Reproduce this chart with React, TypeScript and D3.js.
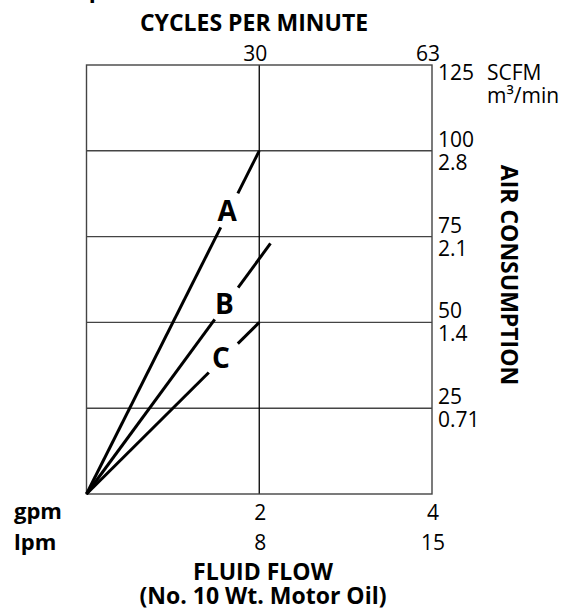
import React from "react";
import * as d3 from "d3";

// ---- data ----
const seriesNames = ["A", "B", "C"];
const endGpm = [2, 2.13, 2];
const endScfm = [100, 73, 50];
const labelT = [0.826, 0.76, 0.79];
const gapStart = [0.777, 0.697, 0.708];
const gapEnd = [0.876, 0.824, 0.876];

const gridScfm = [25, 50, 75, 100];
const scfmTicks = [125, 100, 75, 50, 25];
const m3Ticks = ["m³/min", "2.8", "2.1", "1.4", "0.71"];
const gpmTicks = [2, 4];
const lpmTicks = ["8", "15"];
const cpmTicks = ["30", "63"];

const W = 568;
const H = 612;
const FONT = "'Open Sans', 'Noto Sans', sans-serif";
const NUM = 21;
const TITLE = 23;

export default function App() {
  const x = d3.scaleLinear().domain([0, 4]).range([86.5, 432]);
  const y = d3.scaleLinear().domain([0, 125]).range([494, 65]);
  const line = d3
    .line<[number, number]>()
    .x((d) => x(d[0]))
    .y((d) => y(d[1]));

  const gridColor = "#444";

  return (
    <svg
      width={W}
      height={H}
      style={{ position: "absolute", left: 0, top: 0, background: "#fff" }}
      fontFamily={FONT}
    >
      {/* cut-off text at very top */}
      <text x={96} y={-3} fontSize={TITLE} fontWeight={700} textAnchor="middle">
        p
      </text>

      {/* grid */}
      {gridScfm.map((v) => (
        <line
          key={v}
          x1={x(0)}
          x2={x(4)}
          y1={y(v)}
          y2={y(v)}
          stroke={gridColor}
          strokeWidth={1.4}
        />
      ))}
      <line x1={x(2)} x2={x(2)} y1={y(0)} y2={y(125)} stroke="#000" strokeWidth={1.3} />
      <rect
        x={x(0)}
        y={y(125)}
        width={x(4) - x(0)}
        height={y(0) - y(125)}
        fill="none"
        stroke={gridColor}
        strokeWidth={1.4}
      />

      {/* series lines */}
      {seriesNames.map((name, i) => {
        const ex = endGpm[i];
        const ey = endScfm[i];
        const p = (t: number): [number, number] => [ex * t, ey * t];
        const t = labelT[i];
        return (
          <g key={name}>
            <path
              d={line([p(0), p(gapStart[i])]) || ""}
              fill="none"
              stroke="#000"
              strokeWidth={3}
            />
            <path
              d={line([p(gapEnd[i]), p(1)]) || ""}
              fill="none"
              stroke="#000"
              strokeWidth={3}
            />
            <text
              x={x(ex * t) - 2}
              y={y(ey * t) + 10}
              fontSize={28}
              fontWeight={700}
              textAnchor="middle"
            >
              {name}
            </text>
          </g>
        );
      })}

      {/* top axis */}
      <text x={254} y={31} fontSize={TITLE} fontWeight={700} textAnchor="middle">
        CYCLES PER MINUTE
      </text>
      {cpmTicks.map((c, i) => (
        <text key={c} x={x(gpmTicks[i]) - 4} y={61} fontSize={NUM} textAnchor="middle">
          {c}
        </text>
      ))}

      {/* right axis */}
      {scfmTicks.map((v, i) => {
        const top = v === 125;
        const b1 = top ? 80 : y(v) - 4;
        return (
          <g key={v}>
            <text x={438} y={b1} fontSize={NUM}>
              {v}
            </text>
            {top && (
              <text x={487} y={b1} fontSize={NUM}>
                SCFM
              </text>
            )}
            <text x={top ? 487 : 438} y={b1 + 23} fontSize={NUM}>
              {m3Ticks[i]}
            </text>
          </g>
        );
      })}
      <text
        transform={`translate(501,275) rotate(90)`}
        fontSize={TITLE}
        fontWeight={700}
        textAnchor="middle"
      >
        AIR CONSUMPTION
      </text>

      {/* bottom axis */}
      <text x={14} y={519} fontSize={22} fontWeight={700}>
        gpm
      </text>
      <text x={14} y={550} fontSize={22} fontWeight={700}>
        lpm
      </text>
      {gpmTicks.map((g, i) => (
        <g key={g}>
          <text x={x(g) + 1} y={520} fontSize={NUM} textAnchor="middle">
            {g}
          </text>
          <text x={x(g) + 1} y={550} fontSize={NUM} textAnchor="middle">
            {lpmTicks[i]}
          </text>
        </g>
      ))}
      <text x={263} y={580} fontSize={TITLE} fontWeight={700} textAnchor="middle">
        FLUID FLOW
      </text>
      <text x={263} y={604} fontSize={TITLE} fontWeight={700} textAnchor="middle">
        (No. 10 Wt. Motor Oil)
      </text>
    </svg>
  );
}
